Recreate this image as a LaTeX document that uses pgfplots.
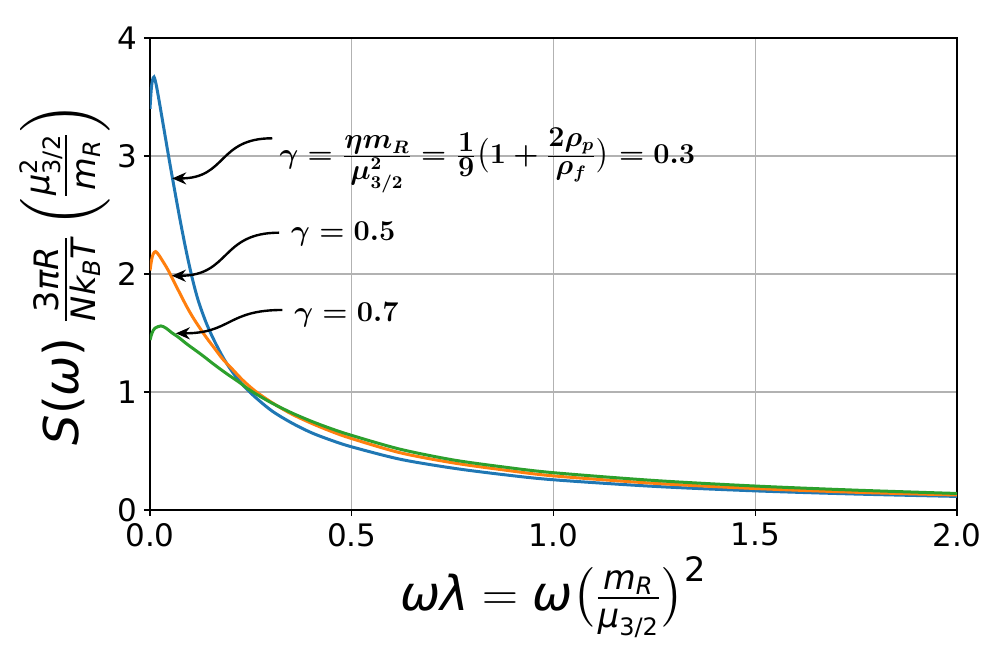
\documentclass[border=0pt]{standalone}
\usepackage[no-math]{fontspec}
\setmainfont{DejaVu Sans}
\usepackage{amsmath}
\usepackage{pgfplots}
\pgfplotsset{compat=1.18}
\usetikzlibrary{arrows.meta}

\definecolor{tabblue}{HTML}{1F77B4}
\definecolor{taborange}{HTML}{FF7F0E}
\definecolor{tabgreen}{HTML}{2CA02C}
\newcommand{\mi}[1]{\text{\itshape #1}}
% fraction with numerator and denominator at a fixed size
\newcommand{\fr}[2]{\frac{\mbox{\fontsize{13.5}{16}\selectfont$#1$}}{\mbox{\fontsize{13.5}{16}\selectfont$#2$}}}

\newsavebox{\gA}
\newsavebox{\gB}
\newsavebox{\gC}

\begin{document}
\sbox{\gA}{\fontsize{14.5}{17}\selectfont\boldmath$\gamma=\fr{\eta m_R}{\mu^2_{3/2}}=\fr{1}{9}\bigl(1+\fr{2\rho_p}{\rho_f}\bigr)=0.3$}%
\sbox{\gB}{\fontsize{14.5}{17}\selectfont\boldmath$\gamma=0.5$}%
\sbox{\gC}{\fontsize{14.5}{17}\selectfont\boldmath$\gamma=0.7$}%
\begin{tikzpicture}
\begin{axis}[
  name=ax,
  scale only axis,
  width=403.5pt, height=236pt,
  xmin=0, xmax=2, ymin=0, ymax=4,
  xtick={0,0.5,1,1.5,2},
  xticklabels={0.0,0.5,1.0,1.5,2.0},
  ytick={0,1,2,3,4},
  xtick pos=bottom, ytick pos=left,
  tick align=outside,
  major tick length=3pt,
  tick style={black, line width=0.6pt},
  grid=major,
  grid style={color=black!30, line width=0.7pt},
  axis line style={line width=0.8pt},
  ticklabel style={font=\fontsize{15.5}{18}\selectfont},
  /pgf/number format/assume math mode=true,
  label style={font=\fontsize{24}{28}\selectfont},
  xlabel={$\mi{ωλ} = \mi{ω}\bigl(\frac{\mi{m}_{\mi{R}}}{\mi{μ}_{\text{3/2}}}\bigr)^{\text{2}}$},
  ylabel={$\mi{S}\text{(}\mi{ω}\text{)}\;\frac{\text{3}\mi{πR}}{\mi{Nk}_{\mi{B}}\mi{T}}\left(\frac{\mi{μ}^{\text{2}}_{\text{3/2}}}{\mi{m}_{\mi{R}}}\right)$},
  xlabel style={at={(axis description cs:0.5,-0.212)}, anchor=base},
  ylabel style={at={(axis description cs:-0.089,0.5)}, anchor=base},
]

%% gamma = 0.3
\addplot[tabblue, line width=1.5pt, smooth] coordinates {
  (0,3.40) (0.003,3.56) (0.006,3.64) (0.010,3.67) (0.015,3.61)
  (0.022,3.48) (0.033,3.26) (0.047,2.98) (0.060,2.73) (0.075,2.45)
  (0.090,2.19) (0.105,1.96) (0.120,1.77) (0.140,1.58) (0.160,1.43)
  (0.185,1.27) (0.215,1.12) (0.25,0.99) (0.30,0.845) (0.35,0.74)
  (0.40,0.655) (0.45,0.59) (0.50,0.535) (0.62,0.43) (0.75,0.355)
  (0.875,0.30) (1.00,0.256) (1.25,0.200) (1.50,0.162) (1.75,0.135)
  (2.00,0.115)
};

%% gamma = 0.5
\addplot[taborange, line width=1.5pt, smooth] coordinates {
  (0,2.03) (0.004,2.12) (0.008,2.17) (0.014,2.19) (0.022,2.16)
  (0.035,2.09) (0.047,2.02) (0.06,1.93) (0.075,1.83) (0.09,1.73)
  (0.105,1.64) (0.12,1.56) (0.14,1.46) (0.16,1.37) (0.18,1.28)
  (0.205,1.19) (0.23,1.10) (0.26,1.01) (0.30,0.915) (0.35,0.815)
  (0.40,0.735) (0.45,0.665) (0.50,0.605) (0.62,0.485) (0.75,0.40)
  (0.875,0.34) (1.00,0.289) (1.25,0.226) (1.50,0.182) (1.75,0.150)
  (2.00,0.127)
};

%% gamma = 0.7
\addplot[tabgreen, line width=1.5pt, smooth] coordinates {
  (0,1.44) (0.005,1.50) (0.012,1.54) (0.027,1.56) (0.04,1.54)
  (0.055,1.50) (0.07,1.465) (0.09,1.41) (0.11,1.36) (0.13,1.31)
  (0.16,1.23) (0.19,1.155) (0.22,1.085) (0.25,1.01) (0.30,0.91)
  (0.35,0.825) (0.40,0.752) (0.45,0.688) (0.50,0.632) (0.62,0.515)
  (0.75,0.425) (0.875,0.365) (1.00,0.316) (1.25,0.250) (1.50,0.203)
  (1.75,0.168) (2.00,0.140)
};

%% annotation anchors
\coordinate (s1) at (axis cs:0.303,3.15);
\coordinate (t1) at (axis cs:0.055,2.81);
\coordinate (s2) at (axis cs:0.32,2.35);
\coordinate (t2) at (axis cs:0.054,1.985);
\coordinate (s3) at (axis cs:0.328,1.695);
\coordinate (t3) at (axis cs:0.064,1.497);
\coordinate (g1) at (axis cs:0.32,2.938);
\coordinate (g2) at (axis cs:0.349,2.288);
\coordinate (g3) at (axis cs:0.357,1.596);
\end{axis}

\begin{scope}[line width=1.2pt, -{Stealth[length=7pt,width=6pt]}]
  \draw (s1) to[out=180, in=0, looseness=1.3] (t1);
  \draw (s2) to[out=180, in=0, looseness=1.3] (t2);
  \draw (s3) to[out=180, in=0, looseness=1.3] (t3);
\end{scope}
\node[anchor=base west, inner sep=0pt] at (g1) {\usebox{\gA}};
\node[anchor=base west, inner sep=0pt] at (g2) {\usebox{\gB}};
\node[anchor=base west, inner sep=0pt] at (g3) {\usebox{\gC}};

\pgfresetboundingbox
\path[use as bounding box] ([xshift=-75pt,yshift=-67.5pt]ax.south west) rectangle ([xshift=19.5pt,yshift=19pt]ax.north east);
\end{tikzpicture}
\end{document}
